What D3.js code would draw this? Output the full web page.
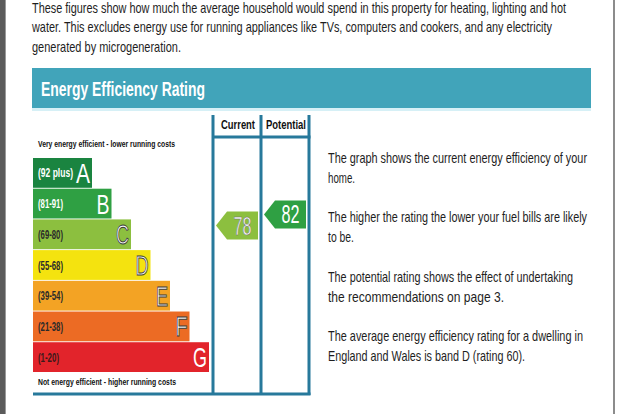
<!DOCTYPE html>
<html><head><meta charset="utf-8">
<script src="https://cdn.jsdelivr.net/npm/d3@7"></script>
<style>body{margin:0;background:#fff;}svg{display:block;}</style>
</head><body><svg id="c" width="620" height="414"></svg>
<script>
// ---- data ----
const bands = ['A','B','C','D','E','F','G'];
const rangeLabels = ['(92 plus)','(81-91)','(69-80)','(55-68)','(39-54)','(21-38)','(1-20)'];
const bandMin = [92,81,69,55,39,21,1];
const bandMax = [100,91,80,68,54,38,20];
const bandColors = ['#1a8440','#2fa043','#8cbf3f','#f4e30f','#f3a324','#ec6b24','#e2242b'];
const rangeLabelColors = ['#fff','#fff','#2a2a2a','#2a2a2a','#2a2a2a','#2a2a2a','#3a1a1a'];
const letterOutline = [false,false,true,true,true,true,false];
const ratingTypes = ['Current','Potential'];
const ratingValues = [78, 82];
const introLines = [
  'These figures show how much the average household would spend in this property for heating, lighting and hot',
  'water. This excludes energy use for running appliances like TVs, computers and cookers, and any electricity',
  'generated by microgeneration.'
];
const noteLines = [
  'The graph shows the current energy efficiency of your','home.','',
  'The higher the rating the lower your fuel bills are likely','to be.','',
  'The potential rating shows the effect of undertaking','the recommendations on page 3.','',
  'The average energy efficiency rating for a dwelling in','England and Wales is band D (rating 60).'
];
const title = 'Energy Efficiency Rating';
const topCaption = 'Very energy efficient - lower running costs';
const bottomCaption = 'Not energy efficient - higher running costs';

// ---- layout constants (text widths to emulate the condensed face) ----
const introWidths = [534, 520, 149];
const noteWidths = [259,27,0,259,26,0,245,176,0,255,197];
const rangeWidths = [35,25,25,25,25,25,21];
const letterWidths = [14,13,13,13,12,12,14];

// ---- drawing ----
const svg = d3.select('#c');
const FN = '"Liberation Sans Narrow","Liberation Sans",Arial,sans-serif';
const teal = '#27799b';

svg.append('rect').attr('x',0).attr('y',0).attr('width',620).attr('height',414).attr('fill','#fff');
svg.append('rect').attr('x',0).attr('y',0).attr('width',5).attr('height',414).attr('fill','#5b5b5b');
svg.append('rect').attr('x',5).attr('y',0).attr('width',1).attr('height',414).attr('fill','#9a9a9a');
svg.append('rect').attr('x',613).attr('y',0).attr('width',2).attr('height',414).attr('fill','#8c8c8c');

// intro text
svg.append('g').selectAll('text').data(introLines).join('text')
  .attr('x',32).attr('y',(d,i)=>13+i*19.3)
  .attr('font-family',FN).attr('font-size',15).attr('fill','#1e1e1e')
  .attr('textLength',(d,i)=>introWidths[i]).attr('lengthAdjust','spacingAndGlyphs')
  .text(d=>d);

// banner
svg.append('rect').attr('x',32).attr('y',68).attr('width',559).attr('height',40).attr('fill','#41a4ba');
svg.append('rect').attr('x',32).attr('y',108).attr('width',559).attr('height',3).attr('fill','#d6f0f6');
svg.append('text').attr('x',41).attr('y',96).attr('font-family',FN).attr('font-weight','bold')
  .attr('font-size',21).attr('fill','#fff').attr('textLength',164).attr('lengthAdjust','spacingAndGlyphs').text(title);

// scales
const y = d3.scaleBand().domain(bands).range([158,372]).paddingInner(0.03);
const xEnd = d3.scaleLinear().domain([0,bands.length-1]).range([92,209]);
const xLeft = 33;
const cols = d3.scaleBand().domain(ratingTypes).range([213,309]);
// piecewise rating -> y
const rDom = [], rRange = [];
for (let i = bands.length-1; i >= 0; i--) {
  rDom.push(bandMin[i]-0.5); rRange.push(y(bands[i])+y.bandwidth());
  rDom.push(bandMax[i]+0.49); rRange.push(y(bands[i]));
}
const rY = d3.scaleLinear().domain(rDom).range(rRange);
function bandOf(v){ return bands.findIndex((b,i)=>v>=bandMin[i] && v<=bandMax[i]); }

// captions
svg.append('text').attr('x',38).attr('y',147).attr('font-family',FN).attr('font-weight','bold')
  .attr('font-size',9).attr('fill','#111').attr('textLength',137).attr('lengthAdjust','spacingAndGlyphs').text(topCaption);
svg.append('text').attr('x',38).attr('y',385).attr('font-family',FN).attr('font-weight','bold')
  .attr('font-size',9).attr('fill','#111').attr('textLength',138).attr('lengthAdjust','spacingAndGlyphs').text(bottomCaption);

// bars
const bg = svg.append('g').selectAll('g').data(bands).join('g');
bg.append('rect').attr('x',xLeft).attr('y',d=>y(d))
  .attr('width',(d,i)=>xEnd(i)-xLeft).attr('height',y.bandwidth())
  .attr('fill',(d,i)=>bandColors[i]);
bg.append('text').attr('x',38).attr('y',d=>y(d)+y.bandwidth()/2+4.5)
  .attr('font-family',FN).attr('font-weight','bold').attr('font-size',12.5)
  .attr('fill',(d,i)=>rangeLabelColors[i])
  .attr('textLength',(d,i)=>rangeWidths[i]).attr('lengthAdjust','spacingAndGlyphs')
  .text((d,i)=>rangeLabels[i]);
bg.append('text').attr('x',(d,i)=>xEnd(i)-2-letterWidths[i]).attr('y',d=>y(d)+y.bandwidth()/2+10)
  .attr('font-family',FN).attr('font-size',28)
  .attr('fill','#fff')
  .attr('textLength',(d,i)=>letterWidths[i]).attr('lengthAdjust','spacingAndGlyphs')
  .attr('stroke',(d,i)=>letterOutline[i]?'#3a3a3a':'none').attr('stroke-width',1)
  .text(d=>d);

// frame lines
const lines = svg.append('g').attr('stroke',teal).attr('stroke-width',3);
const colEdges = [cols.range()[0], ...ratingTypes.map(t=>cols(t)+cols.bandwidth())];
colEdges.forEach(x=>lines.append('line').attr('x1',x).attr('x2',x).attr('y1',115).attr('y2',395));
lines.append('line').attr('x1',cols.range()[0]).attr('x2',cols.range()[1]+1.5).attr('y1',137).attr('y2',137);
lines.append('line').attr('x1',xLeft).attr('x2',cols.range()[1]+1.5).attr('y1',394).attr('y2',394);

// column headers
svg.append('g').selectAll('text').data(ratingTypes).join('text')
  .attr('x',d=>cols(d)+cols.bandwidth()/2+1).attr('y',129).attr('text-anchor','middle')
  .attr('font-family',FN).attr('font-weight','bold').attr('font-size',13).attr('fill','#111')
  .attr('textLength',(d,i)=>i===0?34:40).attr('lengthAdjust','spacingAndGlyphs')
  .text(d=>d);

// arrows
const ah = 28, tip = 11;
const ag = svg.append('g').selectAll('g').data(ratingTypes).join('g')
  .attr('transform',(d,i)=>`translate(${cols(d)+3},${rY(ratingValues[i])-ah/2})`);
ag.append('polygon')
  .attr('points',()=>{const w=cols.bandwidth()-6;return [[0,ah/2],[tip,0],[w,0],[w,ah],[tip,ah]].map(p=>p.join(',')).join(' ');})
  .attr('fill',(d,i)=>bandColors[bandOf(ratingValues[i])]);
ag.append('text').attr('x',(cols.bandwidth()-6+tip)/2-9).attr('y',ah/2+9)
  .attr('font-family',FN).attr('font-size',25).attr('fill','#fff')
  .attr('textLength',18).attr('lengthAdjust','spacingAndGlyphs')
  .attr('stroke',(d,i)=>letterOutline[bandOf(ratingValues[i])]?'#6a6a6a':'none').attr('stroke-width',0.6)
  .text((d,i)=>ratingValues[i]);

// notes
svg.append('g').selectAll('text').data(noteLines).join('text')
  .attr('x',328).attr('y',(d,i)=>163+i*19.8)
  .attr('font-family',FN).attr('font-size',15).attr('fill','#1e1e1e')
  .attr('textLength',(d,i)=>noteWidths[i]||null).attr('lengthAdjust','spacingAndGlyphs')
  .text(d=>d);
</script></body></html>
